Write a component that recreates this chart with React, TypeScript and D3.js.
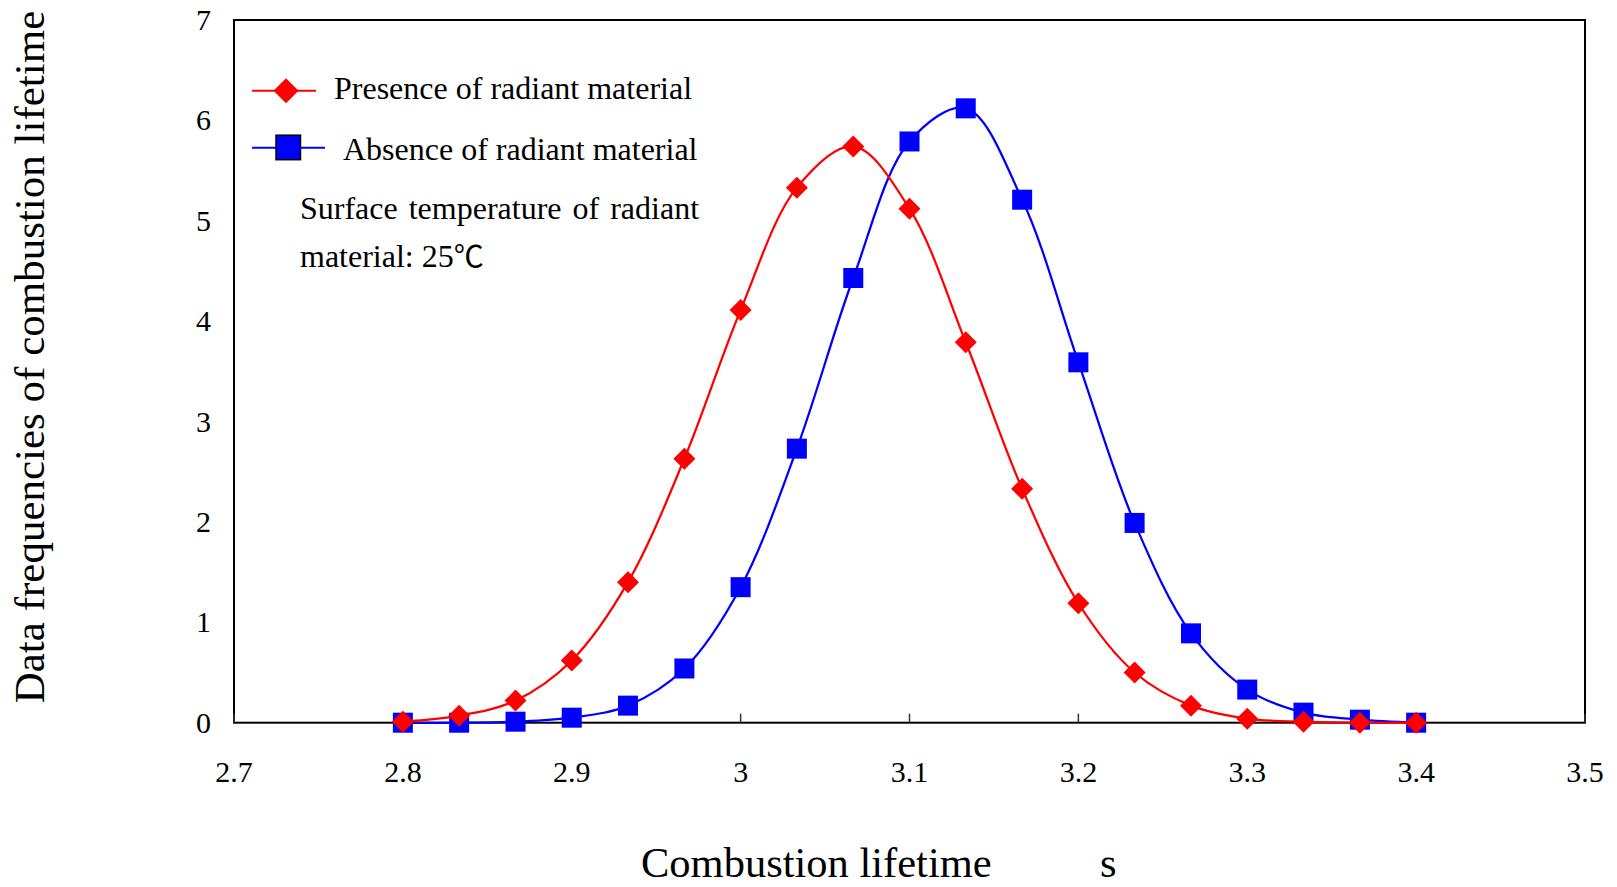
import React from "react";
import * as d3 from "d3";

const xValues = [2.8, 2.8333, 2.8667, 2.9, 2.9333, 2.9667, 3.0, 3.0333, 3.0667, 3.1, 3.1333, 3.1667, 3.2, 3.2333, 3.2667, 3.3, 3.3333, 3.3667, 3.4];
const presence = [0.01, 0.07, 0.22, 0.62, 1.4, 2.63, 4.11, 5.33, 5.74, 5.12, 3.79, 2.33, 1.19, 0.5, 0.17, 0.04, 0.01, 0.0, 0.0];
const absence = [0.0, 0.0, 0.01, 0.05, 0.17, 0.54, 1.35, 2.73, 4.43, 5.79, 6.12, 5.21, 3.59, 1.99, 0.89, 0.33, 0.1, 0.03, 0.0];
const xTicks = [2.7, 2.8, 2.9, 3.0, 3.1, 3.2, 3.3, 3.4, 3.5];
const yTicks = [0, 1, 2, 3, 4, 5, 6, 7];
const seriesNames = ["Presence of radiant material", "Absence of radiant material"];

const W = 1617;
const H = 887;
const left = 234;
const right = 1585;
const top = 20;
const bottom = 722.7;
const FONT = "'Liberation Serif', 'Times New Roman', serif";

export default function App() {
  const x = d3.scaleLinear().domain([2.7, 3.5]).range([left, right]);
  const y = d3.scaleLinear().domain([0, 7]).range([bottom, top]);
  const line = d3
    .line<number>()
    .x((_, i) => x(xValues[i]))
    .y((d) => y(d))
    .curve(d3.curveCatmullRom.alpha(0.5));

  const diamond = (cx: number, cy: number, r: number) =>
    `M${cx},${cy - r}L${cx + r},${cy}L${cx},${cy + r}L${cx - r},${cy}Z`;

  return (
    <svg width={W} height={H} style={{ position: "absolute", left: 0, top: 0, background: "#fff" }} fontFamily={FONT}>
      <rect x={0} y={0} width={W} height={H} fill="#fff" />
      {/* plot box */}
      <rect x={left} y={top} width={right - left} height={bottom - top} fill="none" stroke="#000" strokeWidth={2} />
      {/* x ticks */}
      {xTicks.map((t) => (
        <g key={t}>
          <line x1={x(t)} x2={x(t)} y1={bottom} y2={bottom - 9} stroke="#333" strokeWidth={1.5} />
          <text x={x(t)} y={781.7} fontSize={30} textAnchor="middle" fill="#000">
            {String(t)}
          </text>
        </g>
      ))}
      {/* y tick labels */}
      {yTicks.map((t) => (
        <text key={t} x={211} y={y(t) + 10} fontSize={30} textAnchor="end" fill="#000">
          {String(t)}
        </text>
      ))}
      {/* series: blue */}
      <path d={line(absence) || ""} fill="none" stroke="#0000ff" strokeWidth={2.25} />
      {absence.map((v, i) => (
        <rect key={"b" + i} x={x(xValues[i]) - 10} y={y(v) - 10} width={20} height={20} fill="#0000ff" />
      ))}
      {/* series: red */}
      <path d={line(presence) || ""} fill="none" stroke="#ff0000" strokeWidth={2.25} />
      {presence.map((v, i) => (
        <path key={"r" + i} d={diamond(x(xValues[i]), y(v), 11)} fill="#ff0000" />
      ))}
      {/* legend */}
      <line x1={252} x2={316} y1={90.7} y2={90.7} stroke="#ff0000" strokeWidth={2} />
      <path d={diamond(286, 90.7, 12.5)} fill="#ff0000" />
      <text x={334} y={99} fontSize={32} fill="#000">{seriesNames[0]}</text>
      <line x1={252} x2={325} y1={147.7} y2={147.7} stroke="#0000ff" strokeWidth={2} />
      <rect x={276} y={135.2} width={24.5} height={24.5} fill="#0000ff" stroke="#000" strokeWidth={1.5} />
      <text x={343} y={160} fontSize={32} fill="#000">{seriesNames[1]}</text>
      <text x={300} y={219} fontSize={32} fill="#000" wordSpacing={3}>Surface temperature of radiant</text>
      <text x={300} y={266.7} fontSize={32} fill="#000">
        material: 25<tspan fontFamily="'Noto Sans CJK SC', 'DejaVu Serif', serif" fontSize={30}>℃</tspan>
      </text>
      {/* axis titles */}
      <text x={641} y={877} fontSize={42.5} fill="#000">Combustion lifetime</text>
      <text x={1100} y={877} fontSize={42.5} fill="#000">s</text>
      <text transform={`translate(44,357) rotate(-90)`} fontSize={43} textAnchor="middle" fill="#000">
        Data frequencies of combustion lifetime
      </text>
    </svg>
  );
}
